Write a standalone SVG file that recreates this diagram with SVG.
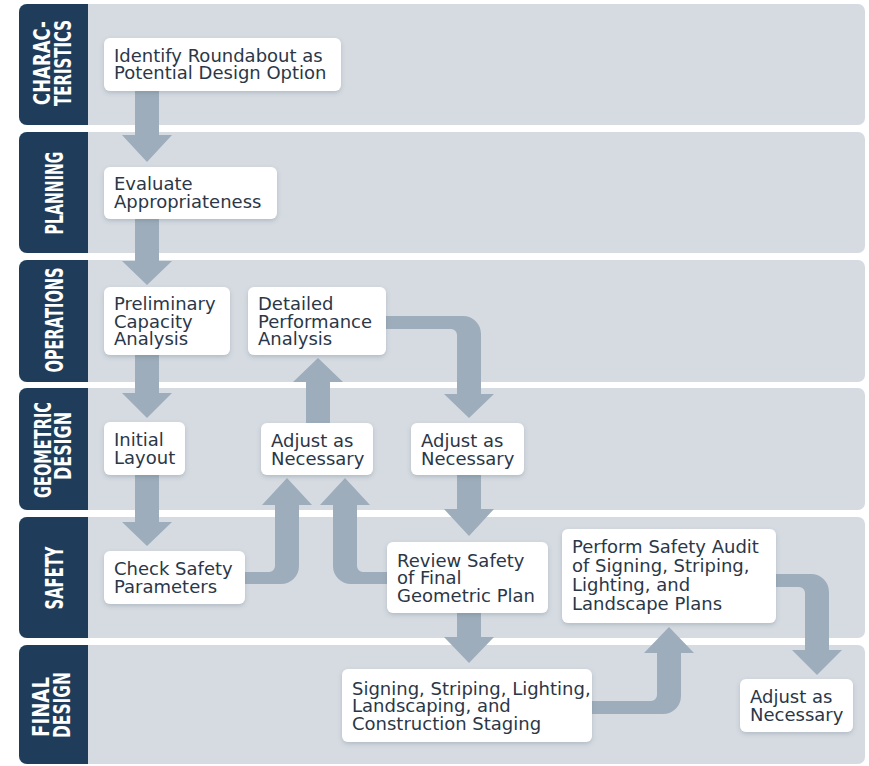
<svg xmlns="http://www.w3.org/2000/svg" width="869" height="766" viewBox="0 0 869 766">
<defs>
<filter id="sh" x="-10%" y="-20%" width="120%" height="150%">
<feDropShadow dx="0" dy="2" stdDeviation="2" flood-color="#4a5a6a" flood-opacity="0.25"/>
</filter>
<style>
.lane{fill:#d6dbe2}
.tab{fill:#1f3d5a}
.lbl{fill:#ffffff;font-family:"DejaVu Sans",sans-serif;font-weight:bold;text-anchor:middle}
.box{fill:#ffffff;filter:url(#sh)}
.t{fill:#2b3747;font-family:"DejaVu Sans","Open Sans",sans-serif;font-size:18px}
.ar{fill:#9dadbb}
</style>
</defs>
<rect width="869" height="766" fill="#ffffff"/>
<g id="lanes">
<rect class="lane" x="19" y="4" width="846" height="121" rx="7"/>
<rect class="lane" x="19" y="132" width="846" height="121" rx="7"/>
<rect class="lane" x="19" y="260" width="846" height="122" rx="7"/>
<rect class="lane" x="19" y="388" width="846" height="122" rx="7"/>
<rect class="lane" x="19" y="517" width="846" height="121" rx="7"/>
<rect class="lane" x="19" y="645" width="846" height="119" rx="7"/>
<path class="tab" d="M88,4 V125 H27 A8,8 0 0 1 19,117 V12 A8,8 0 0 1 27,4 Z"/>
<path class="tab" d="M88,132 V253 H27 A8,8 0 0 1 19,245 V140 A8,8 0 0 1 27,132 Z"/>
<path class="tab" d="M88,260 V382 H27 A8,8 0 0 1 19,374 V268 A8,8 0 0 1 27,260 Z"/>
<path class="tab" d="M88,388 V510 H27 A8,8 0 0 1 19,502 V396 A8,8 0 0 1 27,388 Z"/>
<path class="tab" d="M88,517 V638 H27 A8,8 0 0 1 19,630 V525 A8,8 0 0 1 27,517 Z"/>
<path class="tab" d="M88,645 V764 H27 A8,8 0 0 1 19,756 V653 A8,8 0 0 1 27,645 Z"/>
<text class="lbl" font-size="23" transform="translate(50,63) rotate(-90) scale(0.725,1)" textLength="115.9" lengthAdjust="spacingAndGlyphs">CHARAC-</text>
<text class="lbl" font-size="23" transform="translate(71,63) rotate(-90) scale(0.652,1)" textLength="131.9" lengthAdjust="spacingAndGlyphs">TERISTICS</text>
<text class="lbl" font-size="25" transform="translate(63,193) rotate(-90) scale(0.568,1)" textLength="146.2" lengthAdjust="spacingAndGlyphs">PLANNING</text>
<text class="lbl" font-size="25" transform="translate(63,320) rotate(-90) scale(0.578,1)" textLength="181.8" lengthAdjust="spacingAndGlyphs">OPERATIONS</text>
<text class="lbl" font-size="23" transform="translate(51,450) rotate(-90) scale(0.633,1)" textLength="151.6" lengthAdjust="spacingAndGlyphs">GEOMETRIC</text>
<text class="lbl" font-size="23" transform="translate(71,446) rotate(-90) scale(0.694,1)" textLength="98" lengthAdjust="spacingAndGlyphs">DESIGN</text>
<text class="lbl" font-size="25" transform="translate(63,578) rotate(-90) scale(0.606,1)" textLength="104" lengthAdjust="spacingAndGlyphs">SAFETY</text>
<text class="lbl" font-size="23" transform="translate(49,707) rotate(-90) scale(0.816,1)" textLength="73.5" lengthAdjust="spacingAndGlyphs">FINAL</text>
<text class="lbl" font-size="23" transform="translate(70,705) rotate(-90) scale(0.673,1)" textLength="98" lengthAdjust="spacingAndGlyphs">DESIGN</text>
</g>
<g id="connectors">
<path class="ar" d="M135,91 H159 V135 H172 L147,162 L122,135 H135 Z"/>
<path class="ar" d="M135,219 H159 V261 H172 L147,285 L122,261 H135 Z"/>
<path class="ar" d="M135,355 H159 V393 H172 L147,418 L122,393 H135 Z"/>
<path class="ar" d="M135,475 H159 V522 H172 L147,546 L122,522 H135 Z"/>
<path class="ar" d="M306,423 H330 V382 H343 L318,358 L293,382 H306 Z"/>
<path class="ar" d="M457,475 H481 V509 H494 L469,536 L444,509 H457 Z"/>
<path class="ar" d="M457,613 H481 V637 H494 L469,663 L444,637 H457 Z"/>
<path class="ar" d="M386,316 H463 A18,18 0 0 1 481,334 V394 H494 L469,418 L444,394 H457 V335 A6,6 0 0 0 451,329 H386 Z"/>
<path class="ar" d="M245,572 H269 A6,6 0 0 0 275,566 V505 H262 L287,478 L312,505 H299 V566 A18,18 0 0 1 281,584 H245 Z"/>
<path class="ar" d="M387,572 H363 A6,6 0 0 1 357,566 V505 H370 L345,478 L320,505 H333 V566 A18,18 0 0 0 351,584 H387 Z"/>
<path class="ar" d="M592,701 H651 A6,6 0 0 0 657,695 V653 H644 L669,627 L694,653 H681 V696 A18,18 0 0 1 663,714 H592 Z"/>
<path class="ar" d="M776,574 H811 A18,18 0 0 1 829,592 V650 H842 L817,675 L792,650 H805 V593 A6,6 0 0 0 799,587 H776 Z"/>
</g>
<g id="n1"><rect class="box" x="104" y="38" width="237" height="53" rx="6"/>
<text class="t"><tspan x="114" y="61.5">Identify Roundabout as</tspan><tspan x="114" y="79">Potential Design Option</tspan></text></g>
<g id="n2"><rect class="box" x="104" y="167" width="173" height="52" rx="6"/>
<text class="t"><tspan x="114" y="190">Evaluate</tspan><tspan x="114" y="207.5">Appropriateness</tspan></text></g>
<g id="n3"><rect class="box" x="104" y="287" width="126" height="68" rx="6"/>
<text class="t"><tspan x="114" y="310">Preliminary</tspan><tspan x="114" y="327.5">Capacity</tspan><tspan x="114" y="345">Analysis</tspan></text></g>
<g id="n4"><rect class="box" x="248" y="287" width="138" height="68" rx="6"/>
<text class="t"><tspan x="258" y="310">Detailed</tspan><tspan x="258" y="327.5">Performance</tspan><tspan x="258" y="345">Analysis</tspan></text></g>
<g id="n5"><rect class="box" x="104" y="422" width="81" height="53" rx="6"/>
<text class="t"><tspan x="114" y="446">Initial</tspan><tspan x="114" y="463.5">Layout</tspan></text></g>
<g id="n6"><rect class="box" x="261" y="423" width="112" height="52" rx="6"/>
<text class="t"><tspan x="271" y="447">Adjust as</tspan><tspan x="271" y="464.5">Necessary</tspan></text></g>
<g id="n7"><rect class="box" x="411" y="423" width="113" height="52" rx="6"/>
<text class="t"><tspan x="421" y="447">Adjust as</tspan><tspan x="421" y="464.5">Necessary</tspan></text></g>
<g id="n8"><rect class="box" x="104" y="551" width="141" height="53" rx="6"/>
<text class="t"><tspan x="114" y="575">Check Safety</tspan><tspan x="114" y="592.5">Parameters</tspan></text></g>
<g id="n9"><rect class="box" x="387" y="542" width="161" height="71" rx="6"/>
<text class="t"><tspan x="397" y="566.5">Review Safety</tspan><tspan x="397" y="584">of Final</tspan><tspan x="397" y="601.5">Geometric Plan</tspan></text></g>
<g id="n10"><rect class="box" x="562" y="529" width="214" height="94" rx="6"/>
<text class="t"><tspan x="572" y="553">Perform Safety Audit</tspan><tspan x="572" y="572">of Signing, Striping,</tspan><tspan x="572" y="591">Lighting, and</tspan><tspan x="572" y="610">Landscape Plans</tspan></text></g>
<g id="n11"><rect class="box" x="342" y="669" width="250" height="73" rx="6"/>
<text class="t"><tspan x="352" y="694.5">Signing, Striping, Lighting,</tspan><tspan x="352" y="712">Landscaping, and</tspan><tspan x="352" y="729.5">Construction Staging</tspan></text></g>
<g id="n12"><rect class="box" x="740" y="679" width="113" height="53" rx="6"/>
<text class="t"><tspan x="750" y="703">Adjust as</tspan><tspan x="750" y="720.5">Necessary</tspan></text></g>
</svg>
